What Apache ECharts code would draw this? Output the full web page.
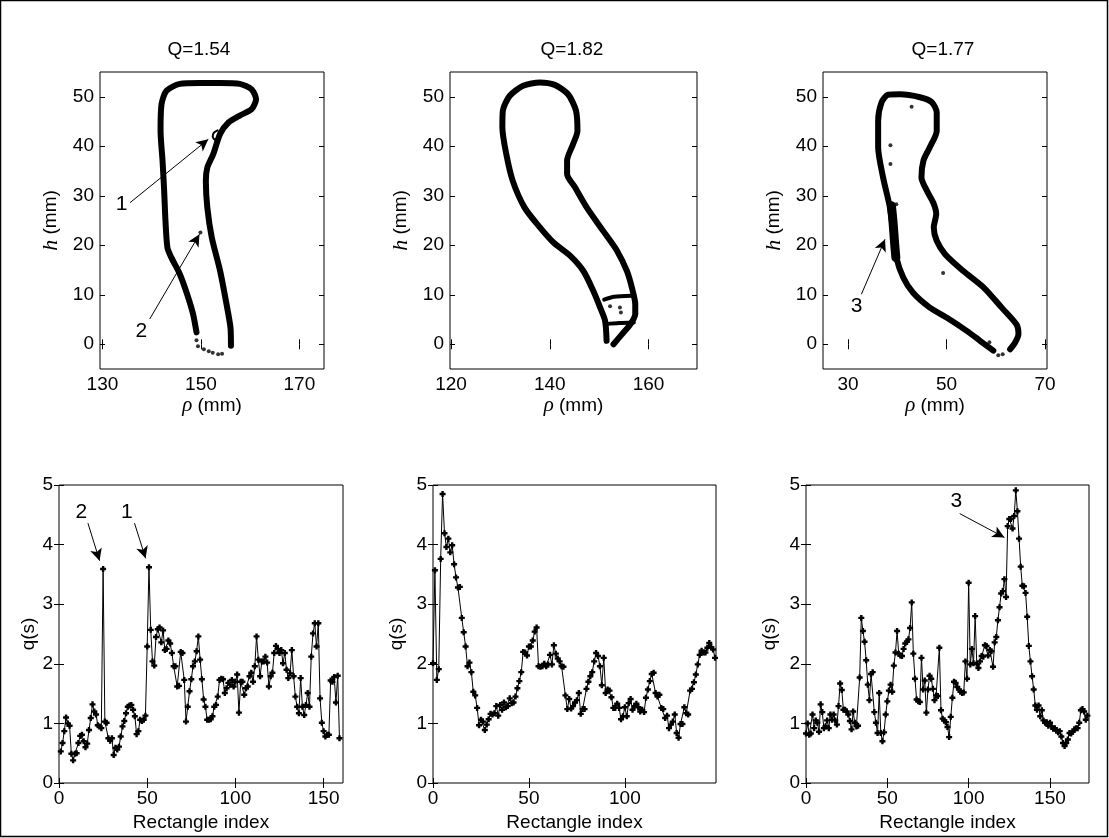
<!DOCTYPE html>
<html>
<head>
<meta charset="utf-8">
<title>Q panels</title>
<script src="https://cdn.jsdelivr.net/npm/echarts@6/dist/echarts.min.js"></script>
<style>
html,body{margin:0;padding:0;background:#fff;}
#main{width:1109px;height:838px;}
</style>
</head>
<body>
<div id="main"></div>
<script>
// ---- top row : contours (rho, h) in mm ----
var outlineA = [[149.1,2.4],[148.4,6.1],[147.2,10.1],[145.7,14.2],[144.0,17.5],[143.2,19.5],[142.8,24.9],[142.5,31.7],[142.2,37.1],[141.8,43.1],[142.0,48.5],[143.0,51.2],[145.7,52.6],[149.8,52.8],[153.9,52.8],[157.9,52.6],[160.3,51.5],[161.2,49.5],[160.3,47.5],[157.9,46.2],[155.6,44.8],[153.9,42.5],[152.5,38.4],[151.3,35.7],[151.0,33.0],[151.3,27.6],[152.2,21.6],[153.9,14.8],[155.2,8.1],[156.0,3.4],[156.1,-0.3]];
var loopA = [[153.4,43.2],[152.6,42.7],[152.4,41.9],[152.9,41.3],[153.7,41.5]];
var dotsA = [[149.1,0.8],[149.4,-0.4],[150.6,-1.0],[151.6,-1.4],[152.4,-1.7],[153.5,-2.0],[154.3,-1.9],[149.9,22.6]];
var arrowsA = [[[135.6,28.6],[151.5,41.4]],[[139.6,5.1],[149.7,22.2]]];
var labelsA = [['1',133.9,28.3],['2',137.9,2.7]];

var outlineB = [[151.5,0.7],[151.2,4.7],[150.2,7.4],[148.8,10.8],[146.8,14.8],[144.1,17.9],[140.7,20.6],[138.0,23.6],[134.9,27.6],[132.5,33.0],[131.2,38.4],[130.4,43.8],[130.5,47.2],[131.9,50.2],[134.6,52.2],[138.0,52.9],[141.0,52.4],[143.7,50.5],[145.3,47.2],[145.6,43.1],[144.7,40.4],[143.5,37.1],[143.5,34.4],[145.1,31.7],[147.5,27.6],[150.8,22.9],[153.6,18.9],[155.6,14.8],[156.6,11.5],[157.3,8.1],[157.3,6.1],[156.3,4.0],[154.6,2.0],[152.9,0.0]];
var rectTopB = [[151.0,9.0],[153.0,9.6],[156.6,9.8]];
var rectBotB = [[151.4,4.1],[154.0,4.3],[157.0,4.4]];
var dotsB = [[152.2,7.7],[154.2,7.4],[154.4,6.4]];

var outlineC = [[59.5,-1.3],[56.8,0.7],[54.1,2.7],[50.0,5.4],[46.6,7.4],[43.2,10.4],[41.2,13.5],[39.8,17.5],[39.2,22.2],[38.5,27.6],[37.1,33.7],[36.1,39.8],[36.1,45.1],[36.8,48.9],[38.1,50.4],[40.5,50.5],[44.6,49.9],[47.0,48.9],[48.0,46.8],[48.0,43.1],[46.6,39.8],[45.3,37.1],[44.9,33.7],[46.0,31.0],[47.3,28.6],[47.9,26.3],[47.4,23.6],[48.0,20.9],[49.7,18.2],[53.4,14.8],[57.5,11.5],[61.2,7.4],[64.2,4.0],[64.6,2.0],[63.9,0.3],[62.9,-1.0]];
var thickC = [[39.7,17.5],[39.4,21.0],[39.1,25.0],[38.8,28.0]];
var dotsC = [[42.9,48.0],[38.6,40.2],[38.6,36.4],[39.8,28.3],[49.3,14.4],[60.5,-2.2],[61.4,-2.0],[58.7,0.4]];
var arrowsC = [[[32.7,10.1],[37.5,21.2]]];
var labelsC = [['3',31.7,7.7]];

var titles = ['Q=1.54', 'Q=1.82', 'Q=1.77'];

// ---- bottom row : q(s) against rectangle index ----
var qA = [0.53,0.67,0.87,1.10,1.00,0.96,0.49,0.38,0.49,0.50,
  0.67,0.79,0.81,0.70,0.60,0.66,0.89,1.09,1.32,1.20,
  1.15,0.97,0.95,0.92,3.59,1.03,1.01,0.75,0.71,0.75,
  0.47,0.59,0.56,0.61,0.78,0.95,1.04,1.17,1.28,1.30,
  1.31,1.23,1.12,0.82,0.87,1.06,1.04,1.06,1.13,2.29,
  3.62,2.57,2.04,1.97,2.45,2.58,2.61,2.36,2.56,2.23,
  2.25,2.39,2.34,2.18,1.96,1.96,1.62,1.63,2.20,2.18,
  1.73,1.03,1.28,1.54,1.74,1.96,2.04,2.21,2.46,2.07,
  1.74,1.40,1.28,1.06,1.06,1.07,1.12,1.28,1.31,1.45,
  1.73,1.75,1.74,1.51,1.59,1.68,1.65,1.73,1.62,1.70,
  1.82,1.18,1.70,1.70,1.48,1.59,1.62,1.79,1.85,1.70,
  1.96,2.46,2.07,1.79,2.04,2.04,2.12,2.02,1.62,1.79,
  1.85,2.18,2.30,2.25,2.18,2.23,2.01,2.18,1.90,1.76,
  1.84,2.23,1.79,1.45,1.28,1.17,1.76,1.28,1.14,1.31,
  1.51,1.28,2.12,2.51,2.68,2.29,2.68,1.42,1.01,0.87,
  0.78,0.81,0.81,1.72,1.70,1.78,1.35,1.80,0.75];
var qB = [2.01,3.57,1.73,1.91,3.76,4.85,4.19,3.96,4.10,3.87,
  3.99,3.67,3.45,3.28,3.29,2.77,2.53,2.29,1.96,2.02,
  1.86,1.53,1.47,1.26,0.97,1.06,1.03,0.89,0.98,1.07,
  1.16,1.15,1.17,1.29,1.13,1.31,1.23,1.35,1.27,1.29,
  1.42,1.34,1.35,1.45,1.59,1.71,1.86,2.20,2.19,2.14,
  2.29,2.29,2.39,2.54,2.61,1.96,1.95,1.96,2.00,1.96,
  1.99,2.15,1.99,2.31,2.17,2.09,2.04,1.96,1.95,1.47,
  1.24,1.41,1.25,
  1.29,1.35,1.39,1.51,1.16,1.24,1.24,1.58,1.70,1.79,
  1.86,2.04,2.18,2.13,1.96,1.64,2.10,1.51,1.57,1.55,
  1.44,1.26,1.26,1.33,1.26,1.07,1.12,1.27,1.12,1.34,
  1.41,1.23,1.29,1.33,1.27,1.20,1.23,1.19,1.43,1.57,
  1.71,1.83,1.85,1.51,1.45,1.48,1.26,1.24,1.09,1.13,
  0.92,0.98,1.03,1.15,0.84,0.76,0.99,0.99,1.27,1.17,
  1.15,1.55,1.58,1.69,1.82,1.99,2.15,2.22,2.19,2.19,
  2.27,2.35,2.28,2.24,2.10];
var qC = [0.83,1.00,0.81,0.83,1.15,0.92,1.05,1.01,0.86,1.32,
  1.19,0.92,0.95,1.05,0.92,1.15,1.06,1.15,1.05,0.98,
  1.29,1.67,1.56,1.23,1.23,1.20,1.15,1.04,0.90,1.20,
  1.01,0.95,0.96,1.77,2.77,2.55,2.37,2.06,1.65,1.39,
  1.83,1.86,1.19,1.01,0.84,1.51,0.84,0.70,0.85,1.15,
  1.37,1.55,1.65,1.53,1.97,2.19,2.55,2.17,2.14,2.13,
  2.25,2.34,2.37,2.41,2.60,3.03,2.17,1.75,1.40,1.37,
  1.36,2.10,1.57,1.72,1.18,1.57,1.80,1.75,1.58,1.39,
  1.47,1.46,2.27,1.22,1.08,1.05,
  1.02,0.94,0.77,1.11,1.43,1.70,1.68,1.61,1.57,1.53,
  1.51,1.52,2.04,1.75,3.36,1.99,2.25,2.01,2.80,2.00,
  1.93,2.04,2.13,2.12,2.31,2.30,2.14,2.23,2.21,1.95,
  2.36,2.45,2.73,2.95,3.18,3.22,3.42,3.12,4.31,4.43,
  4.43,4.27,4.48,4.91,4.56,4.10,3.63,3.31,3.30,3.19,
  2.79,2.30,2.04,1.79,1.57,1.30,1.23,1.30,1.12,1.22,
  1.05,1.01,1.02,0.96,1.01,0.95,0.91,0.92,0.88,0.85,
  0.87,0.78,0.67,0.62,0.67,0.73,0.84,0.83,0.86,0.90,
  0.92,0.92,1.01,1.22,1.24,1.20,1.06,1.13];
var qStart = [1, 0, 0];   // index of the first rectangle in each series
var arrowsQA = [[[16.4,4.36],[23.0,3.73]],[[42.8,4.36],[49.1,3.77]]];
var labelsQA = [['2',12.6,4.55],['1',38.5,4.55]];
var arrowsQC = [[[94.5,4.52],[122.0,4.12]]];
var labelsQC = [['3',92.4,4.73]];

var FONT = '"Liberation Sans", Arial, sans-serif';
var PLUS = 'path://M1.5,0H3.5V1.5H5V3.5H3.5V5H1.5V3.5H0V1.5H1.5Z';

var grids = [
	{left:100, top:72, width:224, height:297},
	{left:450, top:72, width:247, height:297},
	{left:823, top:72, width:224, height:297},
	{left:59, top:485, width:284, height:298},
	{left:433, top:485, width:283, height:298},
	{left:806, top:485, width:283, height:298}
];

var xAxes = [];
var yAxes = [];

//x轴 (bottom with labels, top mirror only ticks)
function addX(gi, min, max, ticks, name, gap) {
	var t = {show:true, inside:true, length:5, lineStyle:{color:'#000'}, customValues:ticks};
	xAxes.push({type:'value', gridIndex:gi, min:min, max:max, position:'bottom',
		name:name, nameLocation:'middle', nameGap:gap,
		nameTextStyle:{color:'#000', fontSize:19, fontFamily:FONT,
			rich:{i:{fontStyle:'italic', fontFamily:'"Liberation Serif", serif', fontSize:21, color:'#000'}}},
		axisLine:{show:false}, splitLine:{show:false}, axisTick:t,
		axisLabel:{show:true, customValues:ticks, margin:6, color:'#000', fontSize:19, fontFamily:FONT}});
	xAxes.push({type:'value', gridIndex:gi, min:min, max:max, position:'top',
		axisLine:{show:false}, splitLine:{show:false}, axisTick:t, axisLabel:{show:false}});
}
//y轴
function addY(gi, min, max, ticks, name, gap) {
	var t = {show:true, inside:true, length:5, lineStyle:{color:'#000'}, customValues:ticks};
	yAxes.push({type:'value', gridIndex:gi, min:min, max:max, position:'left',
		name:name, nameLocation:'middle', nameGap:gap,
		nameTextStyle:{color:'#000', fontSize:19, fontFamily:FONT,
			rich:{i:{fontStyle:'italic', fontFamily:'"Liberation Serif", serif', fontSize:22, color:'#000'}}},
		axisLine:{show:false}, splitLine:{show:false}, axisTick:t,
		axisLabel:{show:true, customValues:ticks, margin:6, color:'#000', fontSize:19, fontFamily:FONT}});
	yAxes.push({type:'value', gridIndex:gi, min:min, max:max, position:'right',
		axisLine:{show:false}, splitLine:{show:false}, axisTick:t, axisLabel:{show:false}});
}

var hTicks = [0,10,20,30,40,50];
addX(0, 129.5, 175, [130,150,170], '{i|ρ} (mm)', 26);
addY(0, -5, 55, hTicks, '{i|h} (mm)', 38);
addX(1, 119.8, 169.8, [120,140,160], '{i|ρ} (mm)', 26);
addY(1, -5, 55, hTicks, '{i|h} (mm)', 38);
addX(2, 24.9, 70.4, [30,50,70], '{i|ρ} (mm)', 26);
addY(2, -5, 55, hTicks, '{i|h} (mm)', 38);
var qTicks = [0,1,2,3,4,5];
addX(3, 0, 161, [0,50,100,150], 'Rectangle index', 30);
addY(3, 0, 5, qTicks, 'q(s)', 18);
addX(4, 0, 147.5, [0,50,100], 'Rectangle index', 30);
addY(4, 0, 5, qTicks, 'q(s)', 27);
addX(5, 0, 174, [0,50,100,150], 'Rectangle index', 30);
addY(5, 0, 5, qTicks, 'q(s)', 27);

var series = [];

function arrowLine(list) {
	var d = [];
	for (var i = 0; i < list.length; i++) {
		d.push([{coord:list[i][0]}, {coord:list[i][1]}]);
	}
	return {silent:true, symbol:['none','arrow'], symbolSize:[9,12], precision:2,
		label:{show:false}, lineStyle:{color:'#000', type:'solid', width:1}, emphasis:{disabled:true}, data:d};
}
function thick(gi, data, w, mark) {
	var s = {type:'line', xAxisIndex:2*gi, yAxisIndex:2*gi, data:data, showSymbol:false, smooth:0.25,
		lineStyle:{color:'#000', width:w, cap:'round', join:'round'}, silent:true};
	if (mark) s.markLine = arrowLine(mark);
	series.push(s);
}
function dots(gi, data, size) {
	series.push({type:'scatter', xAxisIndex:2*gi, yAxisIndex:2*gi, data:data,
		symbolSize:size, itemStyle:{color:'#000'}, silent:true});
}
//文字标注 1 2 3
function tags(gi, list) {
	var d = [];
	for (var i = 0; i < list.length; i++) {
		d.push({name:list[i][0], value:[list[i][1], list[i][2]]});
	}
	series.push({type:'scatter', xAxisIndex:2*gi, yAxisIndex:2*gi, data:d, symbolSize:1,
		itemStyle:{color:'rgba(0,0,0,0)'}, silent:true, z:10,
		label:{show:true, position:'inside', formatter:'{b}', color:'#000', opacity:1,
			textBorderWidth:0, textShadowBlur:0, fontSize:21, fontFamily:FONT}});
}

thick(0, outlineA, 6, arrowsA);
thick(0, loopA, 2);
dots(0, dotsA, 4);
tags(0, labelsA);

thick(1, outlineB, 6);
thick(1, rectTopB, 4);
thick(1, rectBotB, 4);
dots(1, dotsB, 4);

thick(2, outlineC, 6, arrowsC);
thick(2, thickC, 9);
dots(2, dotsC, 4);
tags(2, labelsC);

var qs = [qA, qB, qC];
for (var k = 0; k < 3; k++) {
	var pts = [];
	for (var i = 0; i < qs[k].length; i++) {
		pts.push([i + qStart[k], qs[k][i]]);
	}
	var s = {type:'line', xAxisIndex:2*(k+3), yAxisIndex:2*(k+3), data:pts,
		symbol:PLUS, symbolSize:6, showAllSymbol:true, silent:true,
		itemStyle:{color:'#000'}, lineStyle:{color:'#000', width:1}};
	if (k == 0) s.markLine = arrowLine(arrowsQA);
	if (k == 2) s.markLine = arrowLine(arrowsQC);
	series.push(s);
}
tags(3, labelsQA);
tags(5, labelsQC);

var titleX = [199, 572, 943];
var graphic = [{type:'rect', shape:{x:0.5, y:0.5, width:1107, height:836},
	style:{fill:'none', stroke:'#000', lineWidth:1.5}, z:100}];
for (var j = 0; j < 3; j++) {
	graphic.push({type:'text', x:titleX[j], y:50,
		style:{text:titles[j], align:'center', verticalAlign:'middle', fill:'#000', fontSize:19, fontFamily:FONT}});
}

var chart = echarts.init(document.getElementById('main'));
chart.setOption({
	animation:false,
	backgroundColor:'#fff',
	grid: grids.map(function (g) {
		return {left:g.left, top:g.top, width:g.width, height:g.height, show:true,
			borderColor:'#000', borderWidth:1, backgroundColor:'#fff'};
	}),
	xAxis: xAxes,
	yAxis: yAxes,
	series: series,
	graphic: graphic
});
</script>
</body>
</html>
